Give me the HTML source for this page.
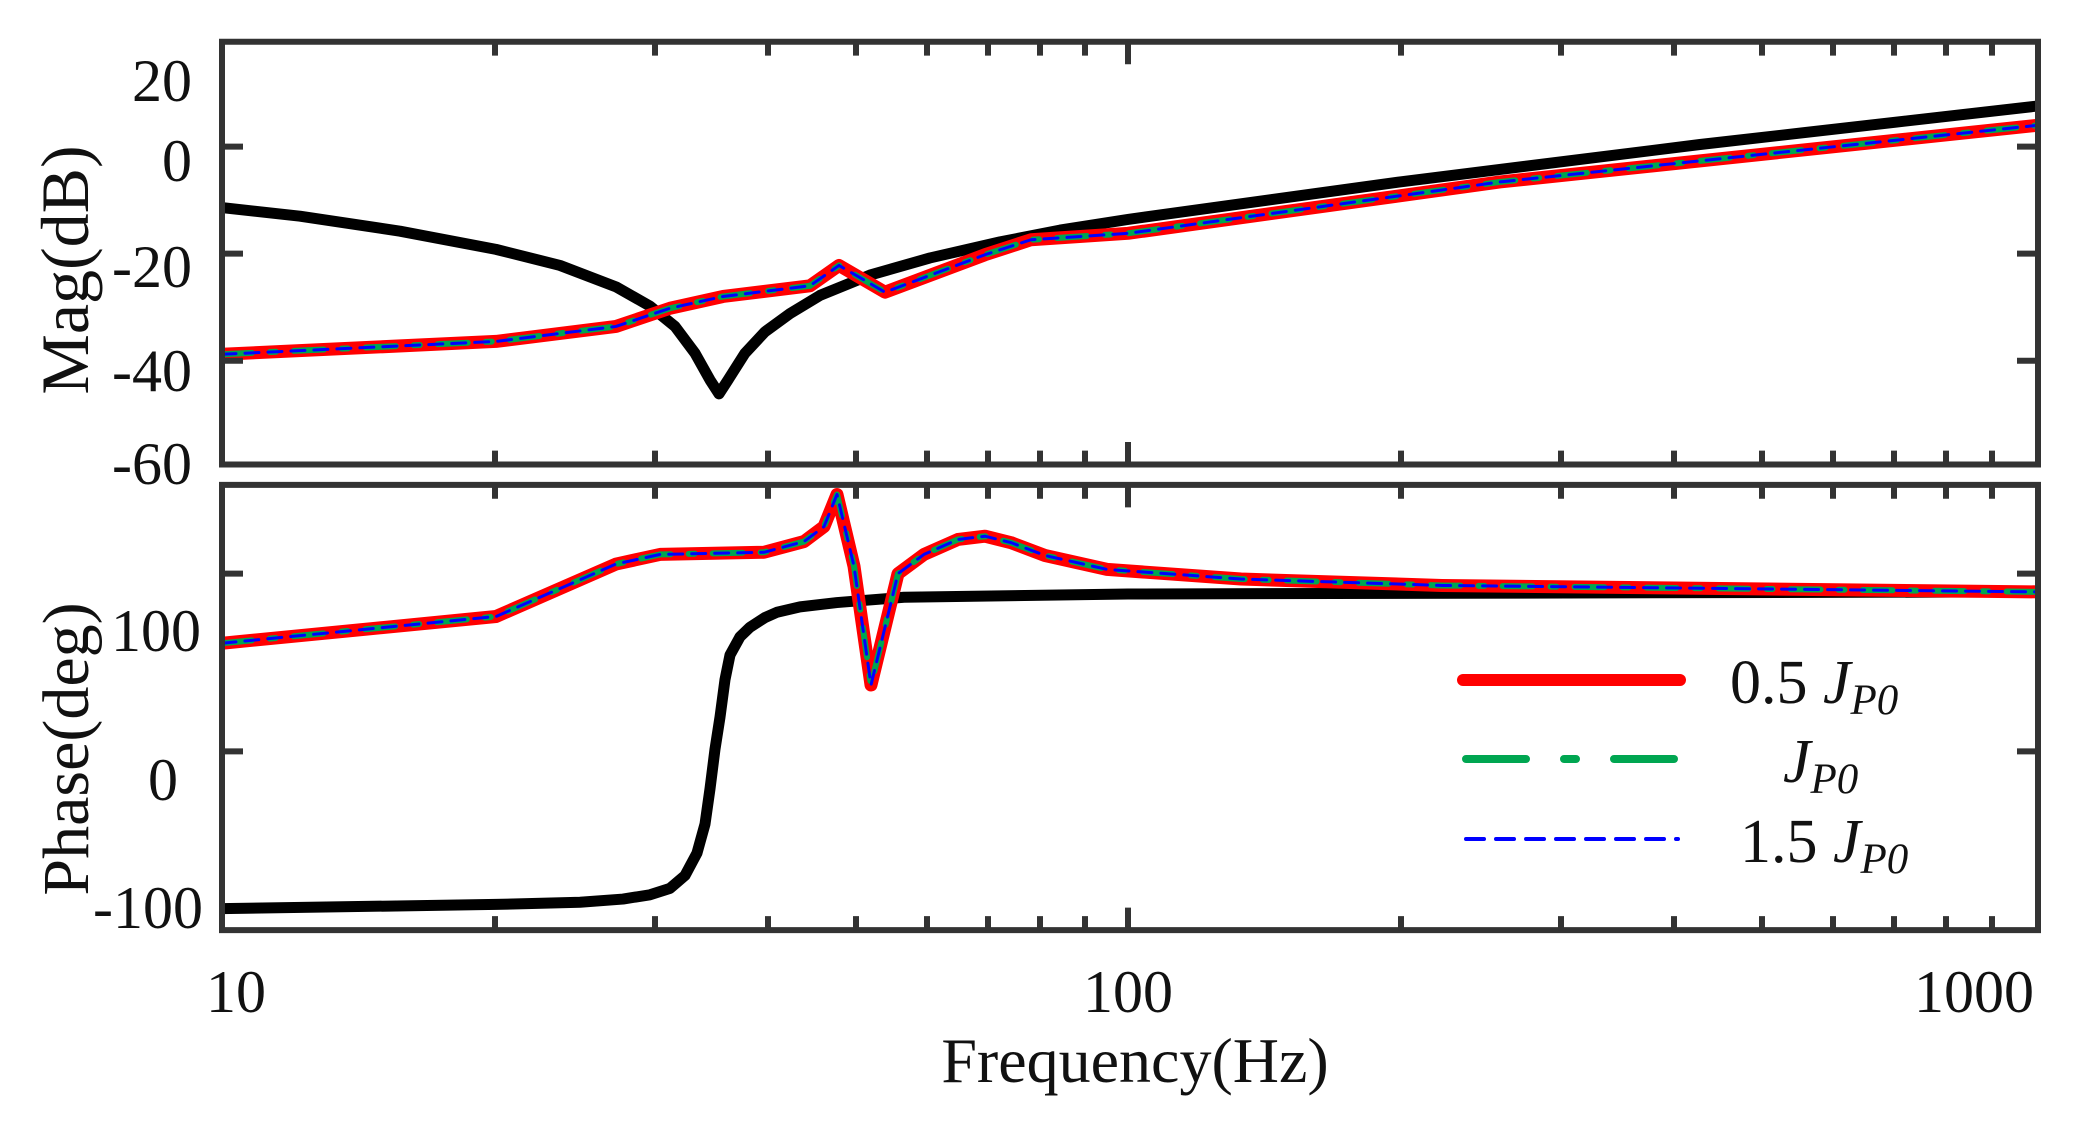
<!DOCTYPE html>
<html><head><meta charset="utf-8"><style>html,body{margin:0;padding:0;background:#fff}svg{display:block}</style></head>
<body>
<svg width="2085" height="1124" viewBox="0 0 2085 1124" xmlns="http://www.w3.org/2000/svg" font-family="Liberation Serif, serif">
<defs>
<clipPath id="c1"><rect x="222" y="39" width="1816" height="395"/></clipPath>
<clipPath id="c2"><rect x="222" y="453" width="1816" height="416"/></clipPath>
</defs>
<g transform="scale(1,1.0703)">
<g fill="none" stroke-linejoin="round" stroke-linecap="round">
<g clip-path="url(#c1)">
<polyline vector-effect="non-scaling-stroke" stroke="#000" stroke-width="11" points="222,194 300,202 400,216 496,233 560,248 616,268 650,286 675,305 695,330 710,355 719,368 728,355 745,330 765,310 790,293 820,276 870,257 930,241 1000,226 1060,215 1128,205 1400,170 1700,135 2038,99"/>
<polyline vector-effect="non-scaling-stroke" stroke="#f00" stroke-width="13" points="222,331 496,319 616,305 670,288 723,277 810,267 839,248 885,273 985,238 1031,224 1128,218 1500,170 2038,117"/>
<polyline vector-effect="non-scaling-stroke" stroke="#00a651" stroke-width="6" stroke-dasharray="30,18,6,18" points="222,331 496,319 616,305 670,288 723,277 810,267 839,248 885,273 985,238 1031,224 1128,218 1500,170 2038,117"/>
<polyline vector-effect="non-scaling-stroke" stroke="#00f" stroke-width="3" stroke-dasharray="14,9" points="222,331 496,319 616,305 670,288 723,277 810,267 839,248 885,273 985,238 1031,224 1128,218 1500,170 2038,117"/>
</g>
<g clip-path="url(#c2)">
<polyline vector-effect="non-scaling-stroke" stroke="#000" stroke-width="11" points="222,849 496,845 580,843 623,840 650,836 670,830 685,818 697,797 705,770 710,737 715,700 720,670 725,635 730,612 740,595 750,586 765,577 777,572 800,567 837,563 904,558 1128,555 2038,553"/>
<polyline vector-effect="non-scaling-stroke" stroke="#f00" stroke-width="13" points="222,601 496,576 616,527 660,518 764,516 804,506 824,492 837,462 854,529 871,640 898,536 924,518 958,504 985,501 1011,507 1045,519 1107,532 1241,541 1442,547 2038,553"/>
<polyline vector-effect="non-scaling-stroke" stroke="#00a651" stroke-width="6" stroke-dasharray="30,18,6,18" points="222,601 496,576 616,527 660,518 764,516 804,506 824,492 837,462 854,529 871,640 898,536 924,518 958,504 985,501 1011,507 1045,519 1107,532 1241,541 1442,547 2038,553"/>
<polyline vector-effect="non-scaling-stroke" stroke="#00f" stroke-width="3" stroke-dasharray="14,9" points="222,601 496,576 616,527 660,518 764,516 804,506 824,492 837,462 854,529 871,640 898,536 924,518 958,504 985,501 1011,507 1045,519 1107,532 1241,541 1442,547 2038,553"/>
</g>
</g>
<g stroke="#333" stroke-width="6" fill="none">
<rect vector-effect="non-scaling-stroke" x="222" y="39" width="1816" height="395"/>
<rect vector-effect="non-scaling-stroke" x="222" y="453" width="1816" height="416"/>
</g>
<g stroke="#333" stroke-width="6">
<path vector-effect="non-scaling-stroke" d="M222,137h21M222,237h21M222,337h21M2038,137h-21M2038,237h-21M2038,337h-21"/>
<path vector-effect="non-scaling-stroke" d="M222,536h21M222,702h21M2038,536h-21M2038,702h-21"/>
<path vector-effect="non-scaling-stroke" d="M1128,39v21M1128,434v-21M1128,453v21M1128,869v-21"/>
<path vector-effect="non-scaling-stroke" d="
M495,39v13M655,39v13M768,39v13M856,39v13M927,39v13M988,39v13M1040,39v13M1085,39v13
M1401,39v13M1561,39v13M1674,39v13M1762,39v13M1833,39v13M1894,39v13M1946,39v13M1992,39v13
M495,434v-13M655,434v-13M768,434v-13M856,434v-13M927,434v-13M988,434v-13M1040,434v-13M1085,434v-13
M1401,434v-13M1561,434v-13M1674,434v-13M1762,434v-13M1833,434v-13M1894,434v-13M1946,434v-13M1992,434v-13
M495,453v13M655,453v13M768,453v13M856,453v13M927,453v13M988,453v13M1040,453v13M1085,453v13
M1401,453v13M1561,453v13M1674,453v13M1762,453v13M1833,453v13M1894,453v13M1946,453v13M1992,453v13
M495,869v-13M655,869v-13M768,869v-13M856,869v-13M927,869v-13M988,869v-13M1040,869v-13M1085,869v-13
M1401,869v-13M1561,869v-13M1674,869v-13M1762,869v-13M1833,869v-13M1894,869v-13M1946,869v-13M1992,869v-13"/>
</g>
</g>
<g font-size="60" fill="#111" text-anchor="end">
<text x="192" y="101">20</text>
<text x="192" y="181">0</text>
<text x="192" y="287">-20</text>
<text x="192" y="391">-40</text>
<text x="192" y="484">-60</text>
<text x="201" y="651">100</text>
<text x="178" y="800">0</text>
<text x="203" y="928">-100</text>
</g>
<g font-size="60" fill="#111" text-anchor="middle">
<text x="236" y="1012">10</text>
<text x="1128" y="1012">100</text>
<text x="1974" y="1012">1000</text>
<text x="1135" y="1082" font-size="64">Frequency(Hz)</text>
<text transform="translate(88,270) rotate(-90)" font-size="68">Mag(dB)</text>
<text transform="translate(88,749) rotate(-90)" font-size="66">Phase(deg)</text>
</g>
<g stroke-linecap="round">
<line x1="1463" y1="680" x2="1680" y2="680" stroke="#f00" stroke-width="12"/>
<line x1="1466" y1="759" x2="1678" y2="759" stroke="#00a651" stroke-width="8" stroke-dasharray="60,38,12,38"/>
<line x1="1466" y1="839" x2="1678" y2="839" stroke="#00f" stroke-width="4" stroke-dasharray="18,12"/>
</g>
<g font-size="62" fill="#111">
<text x="1730" y="703">0.5 <tspan font-style="italic">J</tspan><tspan font-style="italic" font-size="43" dy="11">P0</tspan></text>
<text x="1783" y="782"><tspan font-style="italic">J</tspan><tspan font-style="italic" font-size="43" dy="11">P0</tspan></text>
<text x="1740" y="862">1.5 <tspan font-style="italic">J</tspan><tspan font-style="italic" font-size="43" dy="11">P0</tspan></text>
</g>
</svg>
</body></html>
